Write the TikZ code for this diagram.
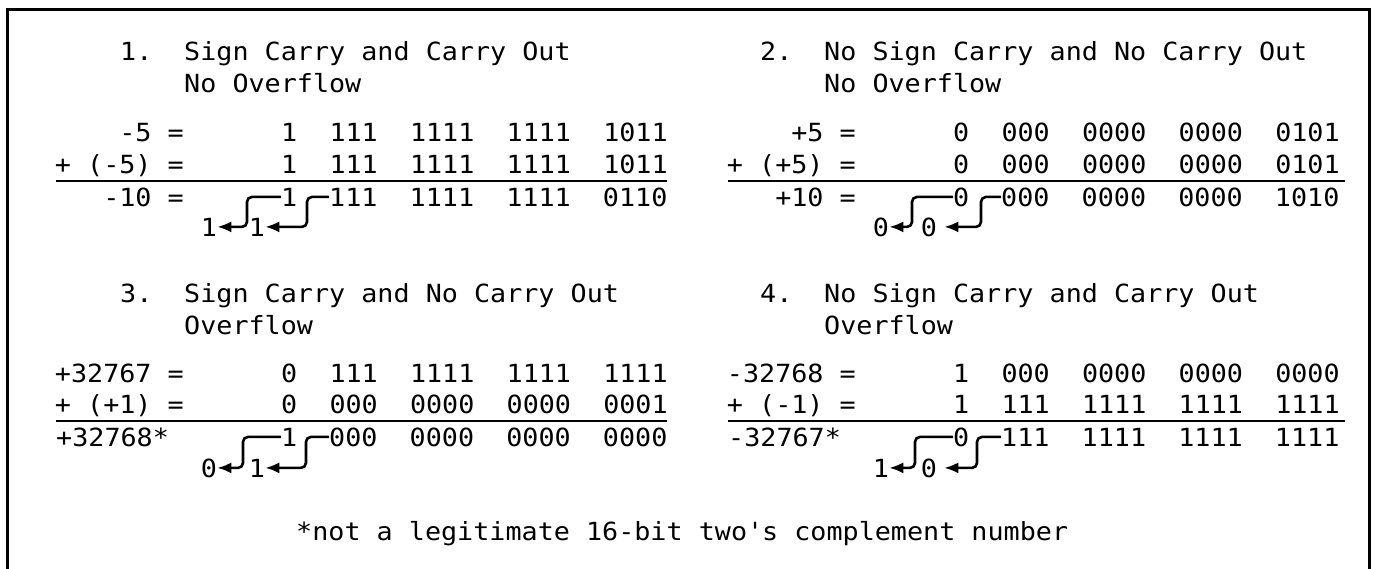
\documentclass[tikz,border=0pt]{standalone}
\usepackage{fontspec}
\setmainfont{DejaVu Sans Mono}[FakeStretch=1.07]
\usetikzlibrary{arrows.meta, calc}

\begin{document}
\begin{tikzpicture}[
  x=1pt, y=-1pt,
  txt/.style={inner sep=0pt, font=\fontsize{25}{30}\selectfont},
  lab/.style={txt, anchor=base east},
  bits/.style={txt, anchor=base west},
  cdig/.style={txt, anchor=base},
  carry/.style={-{Latex[length=14pt,width=11pt]}, line width=2.6pt, rounded corners=5pt},
  rule/.style={line width=2pt},
  frame/.style={line width=3pt}
]
\useasboundingbox (0,0) rectangle (1376,568);
\draw [frame] (7,580) -- (7,9) -- (1369,9) -- (1369,580);

% 1. sign carry and carry out
\node (h1n) [bits] at (120,60) {1.};
\node (h1a) [bits] at (184,60) {Sign Carry and Carry Out};
\node (h1b) [bits] at (184,92) {No Overflow};
\node (a1) [lab] at (184,141) {-5 =};
\node (a1v) [bits] at (281,141) {1~~111~~1111~~1111~~1011};
\node (b1) [lab] at (184,173) {+ (-5) =};
\node (b1v) [bits] at (281,173) {1~~111~~1111~~1111~~1011};
\node (r1) [lab] at (184,206) {-10 =};
\node (s1) [bits] at (281,206) {1};
\node (m1) [bits] at (329,206) {111~~1111~~1111~~0110};
\node (c1a) [cdig] at (209,236) {1};
\node (c1b) [cdig] at (257,236) {1};
\draw [rule] (56,181) -- (667,181);
\draw [carry] (s1.west) -- ++(-34,0) |- (c1a.east);
\draw [carry] (m1.west) -- ++(-22,0) |- (c1b.east);

% 2. no sign carry and no carry out
\node (h2n) [bits] at (760,60) {2.};
\node (h2a) [bits] at (824,60) {No Sign Carry and No Carry Out};
\node (h2b) [bits] at (824,92) {No Overflow};
\node (a2) [lab] at (856,141) {+5 =};
\node (a2v) [bits] at (953,141) {0~~000~~0000~~0000~~0101};
\node (b2) [lab] at (856,173) {+ (+5) =};
\node (b2v) [bits] at (953,173) {0~~000~~0000~~0000~~0101};
\node (r2) [lab] at (856,206) {+10 =};
\node (s2) [bits] at (953,206) {0};
\node (m2) [bits] at (1001,206) {000~~0000~~0000~~1010};
\node (c2a) [cdig] at (881,236) {0};
\node (c2b) [cdig] at (929,236) {0};
\draw [rule] (728,181) -- (1345,181);
\draw [carry] (s2.west) -- ++(-41,0) |- (c2a.east);
\draw [carry, shorten >=7pt] (m2.west) -- ++(-20,0) |- (c2b.east);

% 3. sign carry and no carry out
\node (h3n) [bits] at (120,302) {3.};
\node (h3a) [bits] at (184,302) {Sign Carry and No Carry Out};
\node (h3b) [bits] at (184,334) {Overflow};
\node (a3) [lab] at (184,382) {+32767 =};
\node (a3v) [bits] at (281,382) {0~~111~~1111~~1111~~1111};
\node (b3) [lab] at (184,413) {+ (+1) =};
\node (b3v) [bits] at (281,413) {0~~000~~0000~~0000~~0001};
\node (r3) [bits] at (56,446) {+32768*};
\node (s3) [bits] at (281,446) {1};
\node (m3) [bits] at (329,446) {000~~0000~~0000~~0000};
\node (c3a) [cdig] at (209,477) {0};
\node (c3b) [cdig] at (257,477) {1};
\draw [rule] (56,421) -- (667,421);
\draw [carry] (s3.west) -- ++(-38,0) |- (c3a.east);
\draw [carry] (m3.west) -- ++(-23,0) |- (c3b.east);

% 4. no sign carry and carry out
\node (h4n) [bits] at (760,302) {4.};
\node (h4a) [bits] at (824,302) {No Sign Carry and Carry Out};
\node (h4b) [bits] at (824,334) {Overflow};
\node (a4) [lab] at (856,382) {-32768 =};
\node (a4v) [bits] at (953,382) {1~~000~~0000~~0000~~0000};
\node (b4) [lab] at (856,413) {+ (-1) =};
\node (b4v) [bits] at (953,413) {1~~111~~1111~~1111~~1111};
\node (r4) [bits] at (728,446) {-32767*};
\node (s4) [bits] at (953,446) {0};
\node (m4) [bits] at (1001,446) {111~~1111~~1111~~1111};
\node (c4a) [cdig] at (881,477) {1};
\node (c4b) [cdig] at (929,477) {0};
\draw [rule] (728,421) -- (1345,421);
\draw [carry] (s4.west) -- ++(-38,0) |- (c4a.east);
\draw [carry, shorten >=7pt] (m4.west) -- ++(-24,0) |- (c4b.east);

\node (note) [bits] at (296,540) {*not a legitimate 16-bit two\textquotesingle s complement number};

\end{tikzpicture}
\end{document}
